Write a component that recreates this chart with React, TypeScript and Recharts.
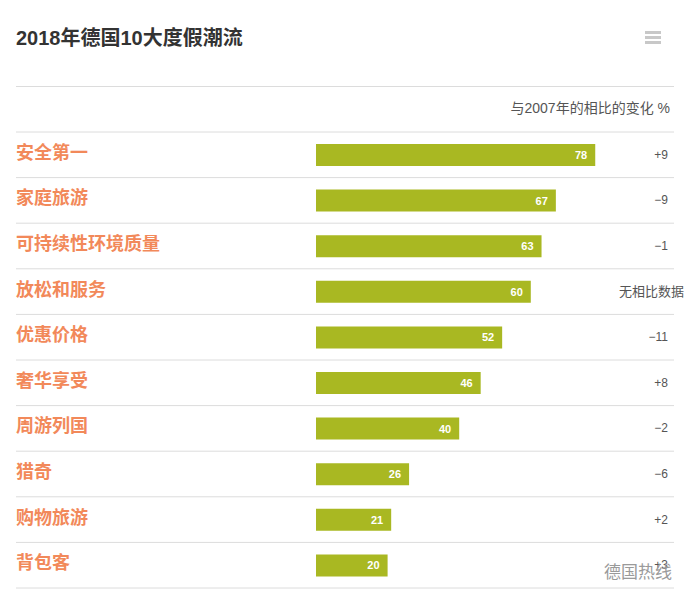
import { BarChart, Bar, XAxis, YAxis, LabelList } from "recharts";

// 2018年德国10大度假潮流 (占比 %)
const categories = [
  "安全第一",
  "家庭旅游",
  "可持续性环境质量",
  "放松和服务",
  "优惠价格",
  "奢华享受",
  "周游列国",
  "猎奇",
  "购物旅游",
  "背包客",
];
const shares = [78, 67, 63, 60, 52, 46, 40, 26, 21, 20];
// 与2007年相比的变化
const changes = ["+9", "−9", "−1", "无相比数据", "−11", "+8", "−2", "−6", "+2", "+3"];

const chartData = categories.map((name, i) => ({ name, share: shares[i] }));

const FONT = '"Liberation Sans", "Noto Sans CJK SC", sans-serif';
const BAR_COLOR = "#a9b822";
const LABEL_COLOR = "#f2895a";
const LINE_COLOR = "#dcdcdc";
const ROW_TOP = 132;
const ROW_BOTTOM = 588;
const BAND = (ROW_BOTTOM - ROW_TOP) / categories.length;

const CategoryTick = (props: any) => {
  const { y, payload, index } = props;
  const i = payload?.index ?? index;
  const change = changes[i];
  const numeric = /^[+−-]?\d+$/.test(change);
  return (
    <g>
      {i === 0 && (
        <line x1={16} x2={674} y1={y - BAND / 2} y2={y - BAND / 2} stroke={LINE_COLOR} />
      )}
      <text
        x={16}
        y={y - 2}
        dominantBaseline="central"
        fill={LABEL_COLOR}
        fontSize={18}
        fontWeight="bold"
        fontFamily={FONT}
      >
        {payload.value}
      </text>
      <text
        x={numeric ? 668 : 684}
        y={y}
        dominantBaseline="central"
        textAnchor="end"
        fill="#555"
        fontSize={numeric ? 12 : 13}
        fontFamily={FONT}
      >
        {change}
      </text>
      <line x1={16} x2={674} y1={y + BAND / 2} y2={y + BAND / 2} stroke={LINE_COLOR} />
    </g>
  );
};

export default function App() {
  return (
    <div
      style={{
        position: "absolute",
        left: 0,
        top: 0,
        width: 693,
        height: 605,
        background: "#fff",
        fontFamily: FONT,
      }}
    >
      <div
        style={{
          position: "absolute",
          left: 16,
          top: 25,
          fontSize: 20,
          fontWeight: "bold",
          color: "#333",
          lineHeight: "26px",
        }}
      >
        2018年德国10大度假潮流
      </div>
      {/* menu icon */}
      {[31, 36, 41].map((t) => (
        <div
          key={t}
          style={{
            position: "absolute",
            left: 645,
            top: t,
            width: 16,
            height: 3,
            background: "#c8c8c8",
          }}
        />
      ))}
      <div
        style={{
          position: "absolute",
          left: 16,
          top: 86,
          width: 658,
          height: 1,
          background: LINE_COLOR,
        }}
      />
      <div
        style={{
          position: "absolute",
          right: 23,
          top: 100,
          fontSize: 14,
          color: "#555",
          lineHeight: "17px",
        }}
      >
        与2007年的相比的变化 %
      </div>
      <div style={{ position: "absolute", left: 0, top: 0 }}>
        <BarChart
          width={693}
          height={605}
          data={chartData}
          layout="vertical"
          margin={{ top: ROW_TOP, right: 19, bottom: 605 - ROW_BOTTOM, left: 0 }}
        >
          <XAxis type="number" domain={[0, 100]} hide />
          <YAxis
            type="category"
            dataKey="name"
            width={316}
            axisLine={false}
            tickLine={false}
            tick={<CategoryTick />}
            interval={0}
          />
          <Bar dataKey="share" fill={BAR_COLOR} barSize={22} isAnimationActive={false}>
            <LabelList
              dataKey="share"
              position="insideRight"
              offset={8}
              fill="#fff"
              fontSize={11}
              fontWeight="bold"
              fontFamily={FONT}
            />
          </Bar>
        </BarChart>
      </div>
      <div
        style={{
          position: "absolute",
          left: 604,
          top: 562,
          fontSize: 17,
          color: "#9a9a9a",
          lineHeight: "22px",
        }}
      >
        德国热线
      </div>
    </div>
  );
}
